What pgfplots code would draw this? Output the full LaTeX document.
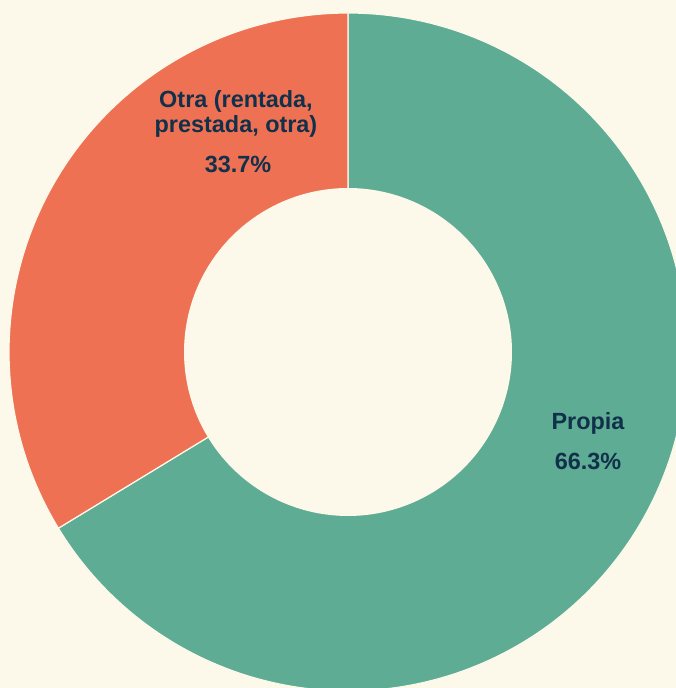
\documentclass[border=0pt]{standalone}
\usepackage{pgfplots}
\usepackage{pgfplotstable}
\pgfplotsset{compat=1.18}
\usepackage{fontspec}
\setmainfont{Liberation Sans}
\definecolor{cream}{HTML}{FCF9EB}
\definecolor{propia}{HTML}{5EAC94}
\definecolor{otra}{HTML}{EE7154}
\definecolor{navy}{HTML}{11304A}
\pgfplotstableread{
label value
Propia 66.3
Otra 33.7
}\piedata
\pgfplotstablegetelem{0}{value}\of\piedata \let\vA\pgfplotsretval
\pgfplotstablegetelem{1}{value}\of\piedata \let\vB\pgfplotsretval
\pgfmathsetmacro{\aStart}{90}
\pgfmathsetmacro{\aMid}{90-\vA*3.6}
\pgfmathsetmacro{\aEnd}{\aMid-\vB*3.6}
\def\cx{348}\def\cy{336}\def\Ro{339}\def\Ri{164}
\begin{document}
\begin{tikzpicture}
\begin{axis}[
  scale only axis, width=676bp, height=688bp,
  xmin=0, xmax=676, ymin=0, ymax=688,
  axis lines=none, ticks=none,
  axis background/.style={fill=cream},
  clip=true,
]
\addplot[fill=propia, draw=cream, line width=1.2pt, domain=\aMid:\aStart, samples=240, variable=\t]
  ({\cx+\Ro*cos(t)},{\cy+\Ro*sin(t)}) -- (axis cs:\cx,\cy) -- cycle;
\addplot[fill=otra, draw=cream, line width=1.2pt, domain=\aEnd:\aMid, samples=160, variable=\t]
  ({\cx+\Ro*cos(t)},{\cy+\Ro*sin(t)}) -- (axis cs:\cx,\cy) -- cycle;
\addplot[fill=cream, draw=none, domain=0:360, samples=240, variable=\t]
  ({\cx+\Ri*cos(t)},{\cy+\Ri*sin(t)}) -- cycle;
\node[font=\fontsize{23.5}{26}\selectfont\bfseries, text=navy, align=center] at (axis cs:236,574) {Otra (rentada,\\prestada, otra)};
\node[font=\fontsize{23.5}{26}\selectfont\bfseries, text=navy] at (axis cs:238,524) {33.7\%};
\node[font=\fontsize{23.5}{26}\selectfont\bfseries, text=navy] at (axis cs:588,265) {Propia};
\node[font=\fontsize{23.5}{26}\selectfont\bfseries, text=navy] at (axis cs:588,227) {66.3\%};
\end{axis}
\end{tikzpicture}
\end{document}
